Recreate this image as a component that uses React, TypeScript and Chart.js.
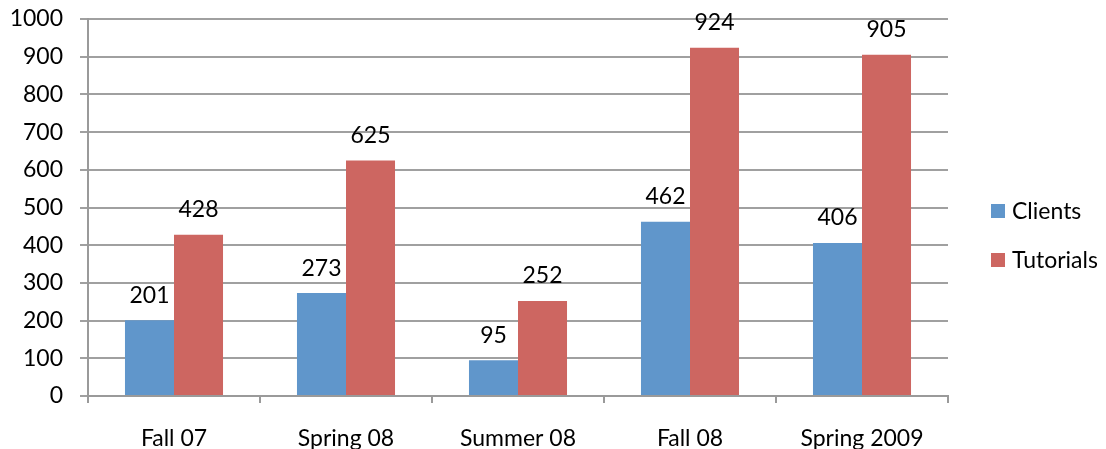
import React, { useEffect, useRef } from "react";
import { Chart, registerables } from "chart.js";

Chart.register(...registerables);

const categories = ["Fall 07", "Spring 08", "Summer 08", "Fall 08", "Spring 2009"];
const clients = [201, 273, 95, 462, 406];
const tutorials = [428, 625, 252, 924, 905];
const seriesNames = ["Clients", "Tutorials"];
const seriesColors = ["#6096CB", "#CD6661"];
const yTicksMax = 1000;
const yStep = 100;

const FONT = "Lato, 'Open Sans', sans-serif";
const FS = 23;

const dataLabelPlugin = {
  id: "dataLabels",
  afterDatasetsDraw(chart: any) {
    const ctx = chart.ctx;
    ctx.save();
    ctx.font = `${FS}px ${FONT}`;
    ctx.fillStyle = "#000";
    ctx.textAlign = "center";
    ctx.textBaseline = "middle";
    chart.data.datasets.forEach((ds: any, i: number) => {
      const meta = chart.getDatasetMeta(i);
      meta.data.forEach((bar: any, j: number) => {
        ctx.fillText(String(ds.data[j]), bar.x, bar.y - 25);
      });
    });
    ctx.restore();
  },
};

const legendPlugin = {
  id: "customLegend",
  afterDraw(chart: any) {
    const ctx = chart.ctx;
    ctx.save();
    ctx.font = `${FS}px ${FONT}`;
    ctx.textBaseline = "middle";
    ctx.textAlign = "left";
    const ys = [211, 260];
    chart.data.datasets.forEach((ds: any, i: number) => {
      ctx.fillStyle = ds.backgroundColor;
      ctx.fillRect(991, ys[i] - 7, 14, 14);
      ctx.fillStyle = "#000";
      ctx.fillText(ds.label, 1012, ys[i] + 1);
    });
    ctx.restore();
  },
};

export default function App() {
  const ref = useRef<HTMLCanvasElement>(null);
  useEffect(() => {
    if (!ref.current) return;
    const chart = new Chart(ref.current, {
      type: "bar",
      data: {
        labels: categories,
        datasets: [
          { label: seriesNames[0], data: clients, backgroundColor: seriesColors[0] },
          { label: seriesNames[1], data: tutorials, backgroundColor: seriesColors[1] },
        ],
      },
      options: {
        animation: false,
        responsive: false,
        maintainAspectRatio: false,
        layout: { padding: { top: 19, right: 158, left: 0, bottom: 0 } },
        datasets: { bar: { categoryPercentage: 0.57, barPercentage: 1.0 } },
        plugins: { legend: { display: false }, tooltip: { enabled: false } },
        scales: {
          x: {
            offset: true,
            grid: {
              display: true,
              drawOnChartArea: false,
              drawTicks: true,
              tickLength: 7,
              color: "#9a9a9a",
              lineWidth: 2,
              offset: true,
            },
            border: { display: true, color: "#9a9a9a", width: 2 },
            ticks: { font: { size: FS, family: FONT }, color: "#000", padding: 22, maxRotation: 0 },
            afterFit(scale: any) {
              scale.height = 53;
              scale.paddingLeft = 0;
              scale.paddingRight = 0;
            },
          },
          y: {
            min: 0,
            max: yTicksMax,
            ticks: {
              stepSize: yStep,
              font: { size: FS, family: FONT },
              color: "#000",
              padding: 17,
              callback: (v: any) => String(v),
            },
            grid: { color: "#a0a0a0", lineWidth: 2, tickLength: 8 },
            border: { display: true, color: "#9a9a9a", width: 2 },
            afterFit(scale: any) {
              scale.width = 88;
              scale.paddingTop = 0;
              scale.paddingBottom = 0;
            },
          },
        },
      },
      plugins: [dataLabelPlugin, legendPlugin],
    });
    return () => chart.destroy();
  }, []);
  return (
    <div style={{ position: "fixed", left: 0, top: 0, width: 1106, height: 449, background: "#fff" }}>
      <canvas ref={ref} width={1106} height={449} style={{ width: 1106, height: 449 }} />
    </div>
  );
}
